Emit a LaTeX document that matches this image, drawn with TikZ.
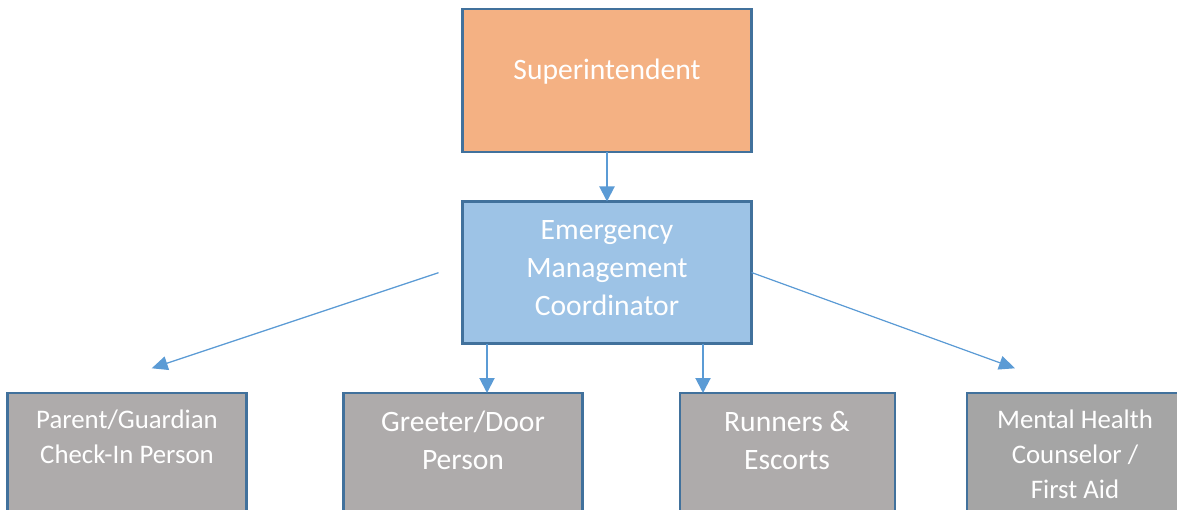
\documentclass[tikz,border=0pt]{standalone}
\usepackage{fontspec}
\setmainfont{Carlito}
\usetikzlibrary{arrows.meta}
\definecolor{boxborder}{HTML}{41719C}
\definecolor{supfill}{HTML}{F4B183}
\definecolor{emcfill}{HTML}{9DC3E6}
\definecolor{grayfill}{HTML}{AEABAB}
\definecolor{grayfillb}{HTML}{A5A5A5}
\definecolor{arrowblue}{HTML}{5B9BD5}
\begin{document}
\begin{tikzpicture}[x=1pt,y=-1pt,
 box/.style={draw=boxborder, line width=2.2pt, rectangle, anchor=north west, inner sep=0pt, outer sep=0pt},
 lbl/.style={text=white, align=center, anchor=base, inner sep=0pt},
 bigtext/.style={font=\fontsize{29.6}{38}\selectfont},
 smalltext/.style={font=\fontsize{26.8}{35}\selectfont},
 vconn/.style={draw=arrowblue, line width=2pt, -{Triangle[length=15pt,width=15pt]}},
 dconn/.style={draw=arrowblue, line width=1.2pt, -{Triangle[length=16pt,width=14pt]}},
]
\clip (0,0) rectangle (1177,510);
\fill[white] (0,0) rectangle (1177,510);
\node[box, fill=supfill, minimum width=289pt, minimum height=143pt] (sup) at (462.5,9) {};
\node[box, fill=emcfill, minimum width=289pt, minimum height=142pt] (emc) at (462.5,201.5) {};
\node[box, fill=grayfill, minimum width=239pt, minimum height=160pt] (box1) at (7.5,393) {};
\node[box, fill=grayfill, minimum width=239pt, minimum height=160pt] (box2) at (343.5,393) {};
\node[box, fill=grayfill, minimum width=215pt, minimum height=160pt] (box3) at (680,393) {};
\node[box, fill=grayfillb, minimum width=230pt, minimum height=160pt] (box4) at (967,393) {};
\node[lbl,bigtext] (tsup) at (607,79.3) {Superintendent};
\node[lbl,bigtext] (temc) at (607,316) {Emergency\\Management\\Coordinator};
\node[lbl,smalltext] (t1) at (127,463.3) {Parent/Guardian\\Check-In Person};
\node[lbl,bigtext] (t2) at (463,469.3) {Greeter/Door\\Person};
\node[lbl,bigtext] (t3) at (787,469.3) {Runners \&\\Escorts};
\node[lbl,smalltext] (t4) at (1075,498.3) {Mental Health\\Counselor /\\First Aid};
\draw[vconn] (sup.south) -- (emc.north);
\coordinate (k2) at (487,0);
\coordinate (k3) at (703,0);
\draw[vconn] (emc.south -| k2) -- (box2.north -| k2);
\draw[vconn] (emc.south -| k3) -- (box3.north -| k3);
\coordinate (ls) at (438.5,272.7);
\coordinate (le) at (151.7,368.3);
\draw[dconn] (ls) -- (le);
\coordinate (re) at (1015,368.3);
\draw[dconn] (emc.east) -- (re);
\end{tikzpicture}
\end{document}
